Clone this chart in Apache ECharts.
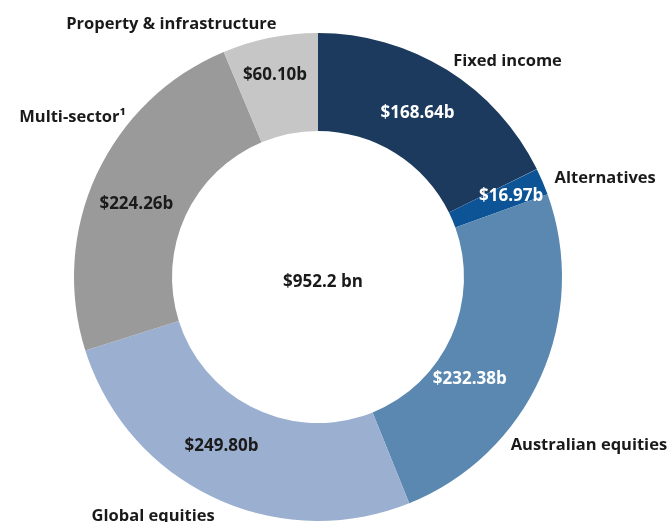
<!DOCTYPE html>
<html>
<head>
<meta charset="utf-8">
<script src="https://cdn.jsdelivr.net/npm/echarts@6/dist/echarts.min.js"></script>
<style>
html,body{margin:0;padding:0;background:#fff;}
#chart{width:670px;height:522px;}
</style>
</head>
<body>
<div id="chart"></div>
<script>
// ---- data ----
var categories = ['Fixed income', 'Alternatives', 'Australian equities', 'Global equities', 'Multi-sector\u00b9', 'Property & infrastructure'];
var values = [168.64, 16.97, 232.38, 249.80, 224.26, 60.10];
var totalLabel = '$952.2 bn';

// ---- styling ----
var colors = ['#1c3a5e', '#0d5497', '#5a88b0', '#9bb0d0', '#9a9a9a', '#c6c6c6'];
var valueTextColors = ['#ffffff', '#ffffff', '#ffffff', '#1a1a1a', '#1a1a1a', '#1a1a1a'];
var innerNudge = [[-5, 4], [11, -3], [-29, 21], [-12, -10], [-2, 10], [-4, -8]];
var outerNudge = [[-5, 2], [-4, 1], [-46, 64], [11, 8], [45, -52], [14, -2]];
var FONT = '"Open Sans", Lato, sans-serif';

var chart = echarts.init(document.getElementById('chart'), null, {renderer: 'canvas'});

var sectorData = categories.map(function (c, i) {
  return {
    name: c,
    value: values[i],
    itemStyle: {color: colors[i]},
    label: {color: valueTextColors[i]}
  };
});
var nameData = categories.map(function (c, i) {
  return {name: c, value: values[i]};
});

chart.setOption({
  backgroundColor: '#ffffff',
  animation: false,
  title: {
    text: totalLabel,
    left: 318,
    top: 277,
    textAlign: 'center',
    textVerticalAlign: 'middle',
    textStyle: {fontFamily: FONT, fontWeight: 'bold', fontSize: 17, color: '#1a1a1a'}
  },
  series: [
    {
      type: 'pie',
      center: [318, 277],
      radius: [146, 244],
      startAngle: 90,
      clockwise: true,
      avoidLabelOverlap: false,
      silent: true,
      itemStyle: {borderWidth: 0},
      label: {
        show: true,
        position: 'inside',
        formatter: function (p) { return '$' + p.value.toFixed(2) + 'b'; },
        fontFamily: FONT,
        fontWeight: 'bold',
        fontSize: 17
      },
      labelLayout: function (p) {
        var n = innerNudge[p.dataIndex];
        return {dx: n[0], dy: n[1]};
      },
      data: sectorData
    },
    {
      type: 'pie',
      center: [318, 277],
      radius: [146, 244],
      startAngle: 90,
      clockwise: true,
      avoidLabelOverlap: false,
      silent: true,
      itemStyle: {color: 'rgba(0,0,0,0)', borderWidth: 0},
      label: {
        show: true,
        position: 'outside',
        formatter: '{b}',
        fontFamily: FONT,
        fontWeight: 'bold',
        fontSize: 16.5,
        color: '#1a1a1a'
      },
      labelLine: {show: false, length: 12, length2: 0},
      labelLayout: function (p) {
        var n = outerNudge[p.dataIndex];
        return {dx: n[0], dy: n[1]};
      },
      data: nameData
    }
  ]
});
</script>
</body>
</html>
